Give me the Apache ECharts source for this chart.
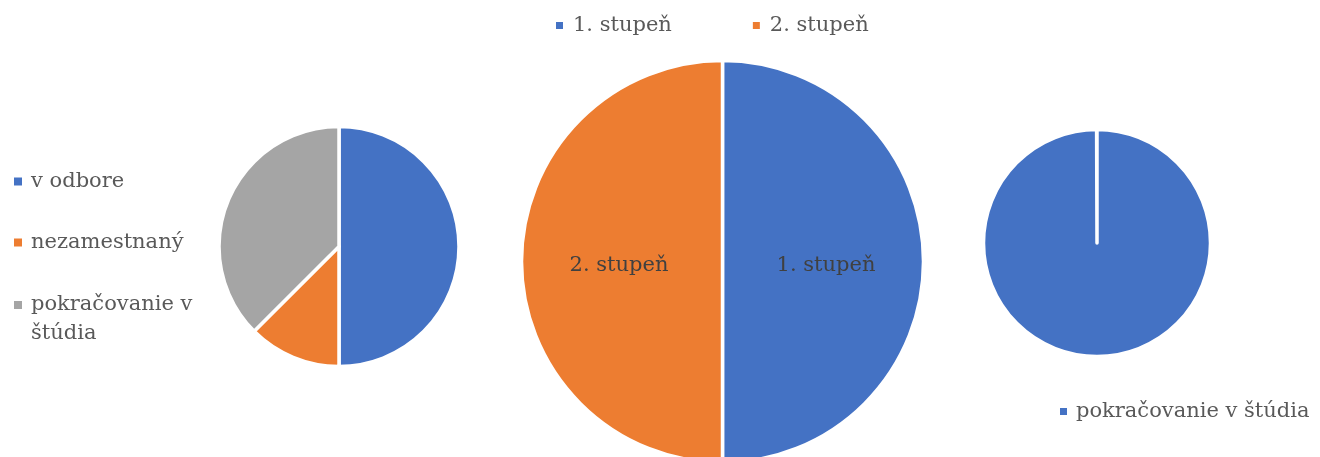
<!DOCTYPE html>
<html><head><meta charset="utf-8">
<script src="https://cdn.jsdelivr.net/npm/echarts@6/dist/echarts.min.js"></script>
<style>html,body{margin:0;padding:0;background:#fff}#c{width:1320px;height:457px}</style>
</head><body><div id="c"></div>
<script>
const leftCategories = ['v odbore', 'nezamestnaný', 'pokračovanie v štúdia'];
const leftValues = [4, 1, 3];
const midCategories = ['1. stupeň', '2. stupeň'];
const midValues = [1, 1];
const rightCategories = ['pokračovanie v štúdia'];
const rightValues = [1];
const leftColors = ['#4472C4', '#ED7D31', '#A5A5A5'];
const midColors = ['#4472C4', '#ED7D31'];
const rightColors = ['#4472C4'];

const FONT = 'DejaVu Serif';
const TXT = '#595959';
const FS = 21;
const mk = (cats, vals, cols) => cats.map((n, i) => ({ name: n, value: vals[i], itemStyle: { color: cols[i] } }));
const lg = (cats, cols) => cats.map((n, i) => ({ name: n, itemStyle: { color: cols[i] } }));

const chart = echarts.init(document.getElementById('c'));
chart.setOption({
  animation: false,
  textStyle: { fontFamily: FONT },
  legend: [
    {
      data: lg(leftCategories.slice(0, 2), leftColors.slice(0, 2)), orient: 'vertical', left: 12, top: 168, padding: 0,
      itemWidth: 10, itemHeight: 10, itemGap: 34, icon: 'rect',
      textStyle: { fontFamily: FONT, fontSize: FS, color: TXT, lineHeight: 27, padding: [0, 0, 0, 3] }
    },
    {
      data: lg(leftCategories.slice(2), leftColors.slice(2)), orient: 'vertical', left: 12, top: 261.5, padding: 0,
      itemWidth: 10, itemHeight: 10, icon: 'rect',
      formatter: n => ' \n' + n.replace('v ', 'v\n'),
      textStyle: { fontFamily: FONT, fontSize: FS, color: TXT, lineHeight: 29, padding: [0, 0, 0, 3] }
    },
    {
      data: lg(midCategories, midColors), orient: 'horizontal', left: 554, top: 12, padding: 0,
      itemWidth: 9, itemHeight: 9, itemGap: 79, icon: 'rect',
      textStyle: { fontFamily: FONT, fontSize: FS, color: TXT, lineHeight: 27, padding: [0, 0, 0, 4] }
    },
    {
      data: lg(rightCategories, rightColors), orient: 'horizontal', left: 1058, top: 398, padding: 0,
      itemWidth: 9, itemHeight: 9, icon: 'rect',
      textStyle: { fontFamily: FONT, fontSize: FS, color: TXT, lineHeight: 27, padding: [0, 0, 0, 3] }
    }
  ],
  series: [
    {
      type: 'pie', center: [339, 246.5], radius: 120, startAngle: 90,
      data: mk(leftCategories, leftValues, leftColors),
      label: { show: false }, labelLine: { show: false },
      itemStyle: { borderColor: '#fff', borderWidth: 3.5 }
    },
    {
      type: 'pie', center: [722.5, 261.5], radius: 201, startAngle: 90,
      data: mk(midCategories, midValues, midColors),
      label: { show: true, position: 'inside', formatter: '{b}', fontFamily: FONT, fontSize: FS, color: '#404040', offset: [0, 4] },
      labelLine: { show: false },
      itemStyle: { borderColor: '#fff', borderWidth: 3.5 }
    },
    {
      type: 'pie', center: [1097, 243], radius: 113.5, startAngle: 90, endAngle: -269.8,
      data: mk(rightCategories, rightValues, rightColors),
      label: { show: false }, labelLine: { show: false },
      itemStyle: { borderColor: '#fff', borderWidth: 3.5 }
    }
  ]
});
</script></body></html>
